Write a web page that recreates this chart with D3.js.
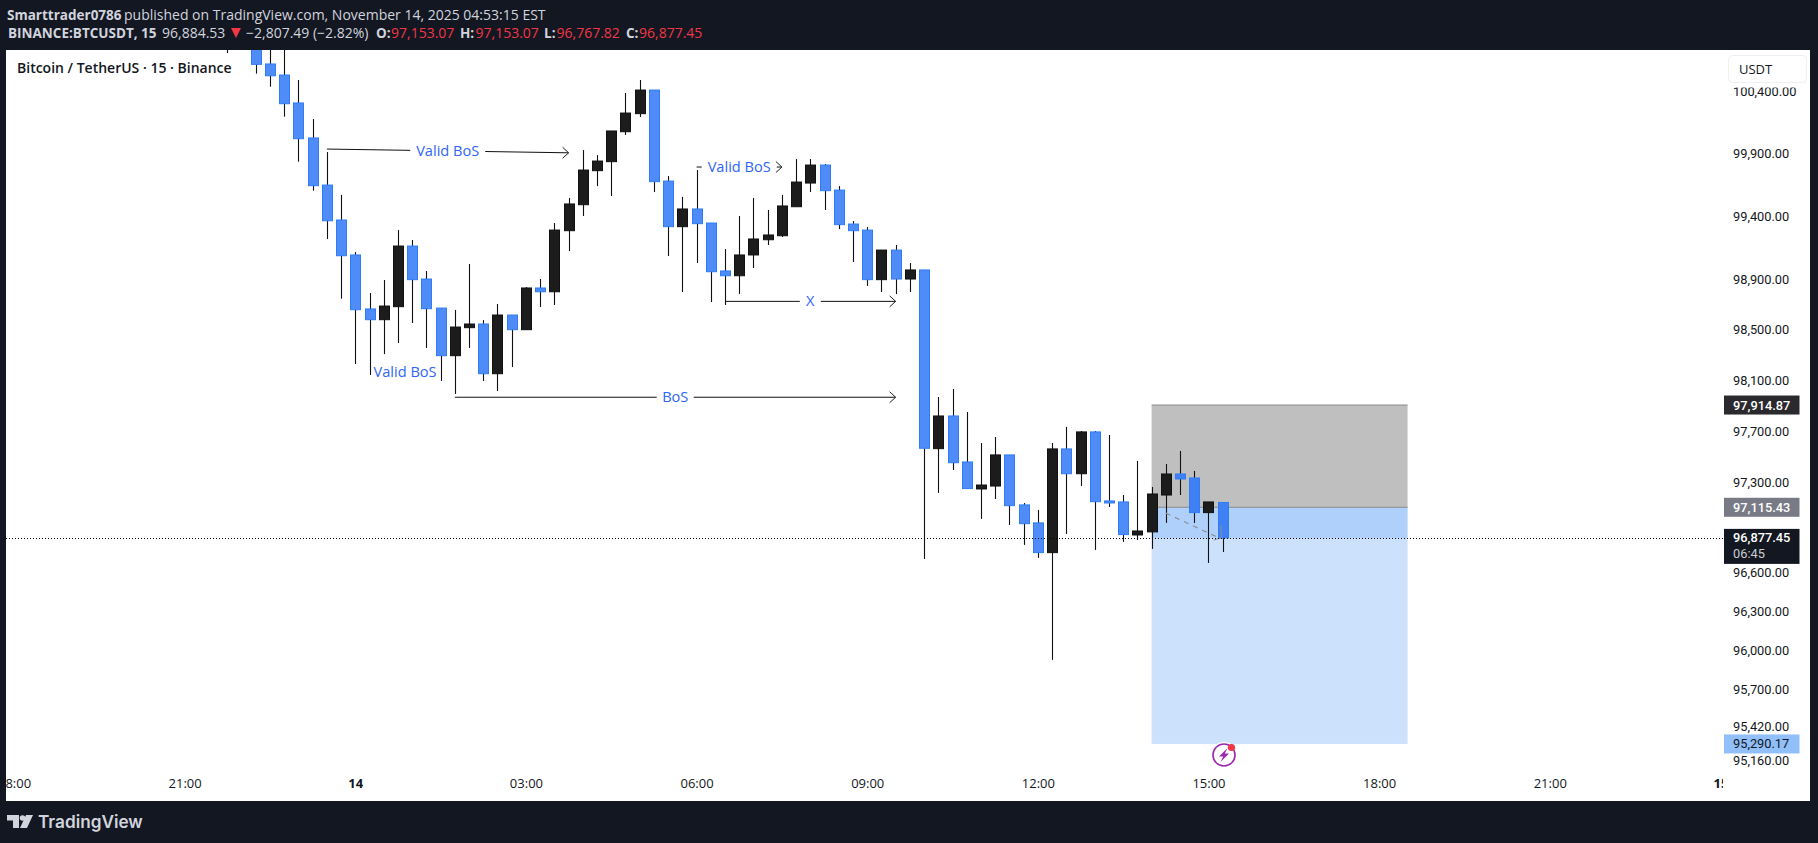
<!DOCTYPE html>
<html>
<head>
<meta charset="utf-8">
<script src="https://cdn.jsdelivr.net/npm/d3@7"></script>
<style>
  html, body { margin: 0; padding: 0; background: #131722; overflow: hidden; }
  svg { display: block; }
  text { font-family: "Open Sans", sans-serif; }
</style>
</head>
<body>
<svg id="chart" width="1818" height="843"></svg>
<script>
// quarter hours since Nov 14 00:00
var slots = [-9, -7, -6, -5, -4, -3, -2, -1, 0, 1, 2, 3, 4, 5, 6, 7, 8, 9, 10, 11, 12, 13, 14, 15, 16, 17, 18, 19, 20, 21, 22, 23, 24, 25, 26, 27, 28, 29, 30, 31, 32, 33, 34, 35, 36, 37, 38, 39, 40, 41, 42, 43, 44, 45, 46, 47, 48, 49, 50, 51, 52, 53, 54, 55, 56, 57, 58, 59, 60, 61];
var opens = [100900, 100862, 100629, 100540, 100315, 100034, 99657, 99378, 99100, 98672, 98587, 98690, 99171, 98909, 98679, 98303, 98524, 98553, 98161, 98624, 98508, 98838, 98808, 99293, 99500, 99772, 99844, 100084, 100229, 100419, 99689, 99325, 99466, 99354, 98973, 98935, 99100, 99221, 99253, 99484, 99673, 99817, 99617, 99346, 99298, 98904, 99139, 98909, 98981, 97573, 97829, 97469, 97258, 97281, 97524, 97134, 96994, 96763, 97571, 97377, 97704, 97165, 97157, 96900, 96924, 97211, 97375, 97344, 97074, 97153.07];
var highs = [100950, 100950, 100900, 100800, 100500, 100186, 99921, 99578, 99123, 98798, 98901, 99298, 99219, 98973, 98679, 98664, 99028, 98584, 98711, 98624, 98846, 98909, 99354, 99554, 99937, 99897, 100090, 100395, 100500, 100419, 99729, 99562, 99777, 99354, 99147, 99410, 99554, 99458, 99578, 99865, 99865, 99825, 99649, 99370, 99322, 99139, 99179, 99036, 98981, 97978, 98041, 97860, 97617, 97664, 97524, 97149, 97095, 97617, 97743, 97711, 97711, 97680, 97211, 97477, 97274, 97453, 97555, 97399, 97157, 97153.07];
var lows = [100717, 100551, 100446, 100205, 99844, 99612, 99227, 98753, 98237, 98151, 98316, 98403, 98561, 98364, 98104, 98002, 98364, 98104, 98025, 98214, 98508, 98687, 98703, 99131, 99410, 99649, 99570, 100058, 100202, 99601, 99092, 98806, 99036, 98727, 98703, 98790, 98996, 99179, 99243, 99484, 99601, 99458, 99306, 99044, 98854, 98806, 98790, 98806, 96714, 97227, 97406, 97261, 97025, 97180, 96978, 96823, 96722, 95935, 96908, 97281, 96784, 97118, 96846, 96861, 96792, 96994, 97211, 96994, 96683, 96767.82];
var closes = [100800, 100626, 100534, 100309, 100028, 99652, 99372, 99094, 98666, 98587, 98695, 99171, 98904, 98674, 98303, 98529, 98553, 98161, 98624, 98508, 98838, 98808, 99298, 99506, 99777, 99849, 100090, 100234, 100419, 99684, 99325, 99466, 99349, 98967, 98935, 99100, 99227, 99259, 99490, 99681, 99817, 99612, 99341, 99293, 98904, 99139, 98909, 98981, 97576, 97829, 97463, 97261, 97289, 97524, 97128, 96988, 96763, 97571, 97377, 97704, 97159, 97149, 96903, 96931, 97219, 97375, 97336, 97074, 97157, 96877.45];

var priceTicks = [100400, 99900, 99400, 98900, 98500, 98100, 97700, 97300, 96600, 96300, 96000, 95700, 95420, 95160];
var timeTicks = [-24, -12, 0, 12, 24, 36, 48, 60, 72, 84, 96];
var timeLabels = ["18:00", "21:00", "14", "03:00", "06:00", "09:00", "12:00", "15:00", "18:00", "21:00", "15"];

var targetTop = 97914.87, entry = 97115.43, stop = 95290.17, lastPrice = 96877.45;
var boxStart = 56, boxEnd = 74;

var noteLabels = ["Valid BoS", "Valid BoS", "X", "BoS"];
var noteFrom = [-2, 24, 26, 7];
var noteTo = [15, 30, 38, 38];
var notePriceFrom = [99945, 99801, 98732, 97976];
var notePriceTo = [99915, 99801, 98732, 97976];
var noteGap = [37.5, 37.5, 10.5, 18.5];

var svg = d3.select("#chart");
var defs = svg.append("defs");
defs.append("clipPath").attr("id", "plot").append("rect").attr("x", 6).attr("y", 50).attr("width", 1804).attr("height", 751);
defs.append("clipPath").attr("id", "timeclip").append("rect").attr("x", 6).attr("y", 770).attr("width", 1717).attr("height", 31);

var x = d3.scaleLinear().domain([0, 96]).range([355.3, 1720.4]);
var y = d3.scaleLog().domain([100400, 95160]).range([92.4, 761]);

svg.append("rect").attr("x", 6).attr("y", 50).attr("width", 1804).attr("height", 751).attr("fill", "#fff");

var plot = svg.append("g").attr("clip-path", "url(#plot)");

// short position box, under the candles
var boxX = x(boxStart), boxW = x(boxEnd) - x(boxStart);
plot.append("rect").attr("x", boxX).attr("width", boxW)
  .attr("y", y(targetTop)).attr("height", y(entry) - y(targetTop))
  .attr("fill", "#808080").attr("fill-opacity", 0.5);
plot.append("rect").attr("x", boxX).attr("width", boxW)
  .attr("y", y(entry)).attr("height", y(stop) - y(entry))
  .attr("fill", "#2f86f5").attr("fill-opacity", 0.25);
plot.append("rect").attr("x", boxX).attr("width", boxW)
  .attr("y", y(entry)).attr("height", y(lastPrice) - y(entry))
  .attr("fill", "#2f86f5").attr("fill-opacity", 0.18);
plot.selectAll(".boxline").data([targetTop, entry]).enter().append("line")
  .attr("x1", boxX).attr("x2", boxX + boxW)
  .attr("y1", function (d) { return y(d); })
  .attr("y2", function (d) { return y(d); })
  .attr("stroke", "#8a8a8a").attr("stroke-width", 1);

// candles
var candles = slots.map(function (s, i) {
  return { slot: s, o: opens[i], h: highs[i], l: lows[i], c: closes[i] };
});

plot.selectAll(".wick").data(candles).enter().append("line")
  .attr("class", "wick")
  .attr("x1", function (d) { return Math.round(x(d.slot)) + 0.5; })
  .attr("x2", function (d) { return Math.round(x(d.slot)) + 0.5; })
  .attr("y1", function (d) { return y(d.h); })
  .attr("y2", function (d) { return y(d.l); })
  .attr("stroke", "#111")
  .attr("stroke-width", 1.1);

plot.selectAll(".body").data(candles).enter().append("rect")
  .attr("class", "body")
  .attr("x", function (d) { return Math.round(x(d.slot)) - 4.5; })
  .attr("width", 10)
  .attr("y", function (d) { return y(Math.max(d.o, d.c)); })
  .attr("height", function (d) { return Math.max(1, Math.abs(y(d.o) - y(d.c))); })
  .attr("fill", function (d) {
    if (d.c >= d.o) return "#1c1c1c";
    return d.slot > boxStart ? "#3f80f5" : "#4f8cf8"; // the ones inside the box look deeper
  })
  .attr("stroke", function (d) { return d.c < d.o ? "#2f7df6" : "#111"; })
  .attr("stroke-width", 1);

// dashed line inside the box
plot.append("line")
  .attr("x1", x(57)).attr("y1", y(97070))
  .attr("x2", x(61) - 3).attr("y2", y(96875))
  .attr("stroke", "#8b8f99").attr("stroke-width", 1.2).attr("stroke-dasharray", "5 5");
plot.append("path")
  .attr("d", "M" + (x(61) - 2) + "," + (y(96975)) + "L" + (x(61) - 1) + "," + y(96880) + "L" + (x(61) - 9) + "," + y(96860))
  .attr("fill", "none").attr("stroke", "#8b8f99").attr("stroke-width", 1);

// last price line
svg.append("line")
  .attr("x1", 6).attr("x2", 1723)
  .attr("y1", Math.round(y(lastPrice)) + 0.5).attr("y2", Math.round(y(lastPrice)) + 0.5)
  .attr("stroke", "#000").attr("stroke-width", 1).attr("stroke-dasharray", "1 2");

// annotations
noteLabels.forEach(function (label, i) {
  var x1 = x(noteFrom[i]), x2 = x(noteTo[i]);
  var y1 = y(notePriceFrom[i]), y2 = y(notePriceTo[i]);
  var mx = (x1 + x2) / 2, my = (y1 + y2) / 2;
  var t1 = (mx - noteGap[i] - x1) / (x2 - x1), t2 = (mx + noteGap[i] - x1) / (x2 - x1);
  plot.append("line").attr("x1", x1).attr("y1", y1)
    .attr("x2", x1 + (x2 - x1) * t1).attr("y2", y1 + (y2 - y1) * t1)
    .attr("stroke", "#111").attr("stroke-width", 1);
  plot.append("line").attr("x1", x1 + (x2 - x1) * t2).attr("y1", y1 + (y2 - y1) * t2)
    .attr("x2", x2).attr("y2", y2)
    .attr("stroke", "#111").attr("stroke-width", 1);
  plot.append("path")
    .attr("d", "M" + (x2 - 6) + "," + (y2 - 5.5) + "L" + x2 + "," + y2 + "L" + (x2 - 6) + "," + (y2 + 5.5))
    .attr("fill", "none").attr("stroke", "#222").attr("stroke-width", 1);
  plot.append("text").attr("x", mx).attr("y", my).attr("dy", "0.35em")
    .attr("text-anchor", "middle").attr("font-size", 14.6).attr("fill", "#2f66f5")
    .text(label);
});
plot.append("text").attr("x", x(3.5)).attr("y", y(98174)).attr("dy", "0.35em")
  .attr("text-anchor", "middle").attr("font-size", 14.6).attr("fill", "#2f66f5")
  .text("Valid BoS");

// price axis
var priceAxis = d3.axisRight(y)
  .tickValues(priceTicks)
  .tickSize(0)
  .tickPadding(0)
  .tickFormat(d3.format(",.2f"));
var pa = svg.append("g").attr("transform", "translate(1733,-1)").call(priceAxis);
pa.select(".domain").remove();
pa.selectAll("text").attr("font-size", 12.8).attr("fill", "#131722").style("font-family", "Roboto");

// price labels
var tagPrices = [targetTop, entry, stop];
var tagFill = ["#2a2a2e", "#787b86", "#90bff9"];
var tagText = ["#fff", "#fff", "#131722"];
tagPrices.forEach(function (p, i) {
  svg.append("rect").attr("x", 1724).attr("width", 75.5).attr("y", y(p) - 9.5).attr("height", 19).attr("fill", tagFill[i]);
  svg.append("text").attr("x", 1733).attr("y", y(p)).attr("dy", "0.35em")
    .attr("font-size", 12.8).attr("fill", tagText[i]).style("font-family", "Roboto")
    .attr("font-weight", i === 2 ? 400 : 500)
    .text(d3.format(",.2f")(p));
});
svg.append("rect").attr("x", 1724).attr("width", 75.5).attr("y", y(lastPrice) - 9).attr("height", 35).attr("fill", "#131722");
svg.append("text").attr("x", 1733).attr("y", y(lastPrice)).attr("dy", "0.35em")
  .attr("font-size", 12.8).attr("font-weight", 500).attr("fill", "#fff").style("font-family", "Roboto")
  .text(d3.format(",.2f")(lastPrice));
svg.append("text").attr("x", 1733).attr("y", y(lastPrice) + 16).attr("dy", "0.35em")
  .attr("font-size", 12.8).attr("fill", "#c9cbd1").style("font-family", "Roboto").text("06:45");

// USDT button, its margin hides the top of the first tick
svg.append("rect").attr("x", 1728).attr("y", 55).attr("width", 79).attr("height", 32.5).attr("fill", "#fff");
svg.append("rect").attr("x", 1728.5).attr("y", 55.5).attr("width", 78).attr("height", 27).attr("rx", 4)
  .attr("fill", "#fff").attr("stroke", "#eeeff2");
svg.append("text").attr("x", 1739).attr("y", 69).attr("dy", "0.35em")
  .attr("font-size", 13).attr("fill", "#131722").text("USDT");

// time axis
var timeAxis = d3.axisBottom(x)
  .tickValues(timeTicks)
  .tickSize(0)
  .tickPadding(0)
  .tickFormat(function (d, i) { return timeLabels[i]; });
var ta = svg.append("g").attr("clip-path", "url(#timeclip)")
  .append("g").attr("transform", "translate(0,779)").call(timeAxis);
ta.select(".domain").remove();
ta.selectAll("text").attr("font-size", 13).attr("fill", "#131722").style("font-family", "Open Sans")
  .attr("font-weight", function (d, i) { return timeLabels[i].length < 3 ? 700 : 400; });

// title
svg.append("text").attr("x", 17).attr("y", 68).attr("dy", "0.35em")
  .attr("font-size", 14).attr("font-weight", 600).attr("fill", "#131722")
  .text("Bitcoin / TetherUS · 15 · Binance");

// header
var headText = "#d1d4dc", headRed = "#f23645";
var headerBits = [
  ["Smarttrader0786", 7, 15, headText, 700],
  ["published on TradingView.com, November 14, 2025 04:53:15 EST", 124, 15, headText, 400],
  ["BINANCE:BTCUSDT, 15", 8, 33, headText, 700],
  ["96,884.53", 162, 33, headText, 400],
  ["−2,807.49 (−2.82%)", 246, 33, headText, 400],
  ["O:", 376, 33, headText, 700],
  ["97,153.07", 391, 33, headRed, 400],
  ["H:", 460, 33, headText, 700],
  ["97,153.07", 475.5, 33, headRed, 400],
  ["L:", 544, 33, headText, 700],
  ["96,767.82", 556.5, 33, headRed, 400],
  ["C:", 626, 33, headText, 700],
  ["96,877.45", 639, 33, headRed, 400]
];
svg.selectAll(".head").data(headerBits).enter().append("text")
  .attr("class", "head")
  .attr("x", function (d) { return d[1]; })
  .attr("y", function (d) { return d[2]; })
  .attr("dy", "0.35em")
  .attr("font-size", function (d) { return d[4] === 700 ? 13.5 : 14; })
  .attr("fill", function (d) { return d[3]; })
  .attr("font-weight", function (d) { return d[4]; })
  .text(function (d) { return d[0]; });
svg.append("path").attr("d", "M231,28L241,28L236,38Z").attr("fill", headRed);

// lightning badge
var badge = svg.append("g").attr("transform", "translate(1224,755)");
badge.append("circle").attr("r", 13).attr("fill", "#fff");
badge.append("circle").attr("r", 11).attr("fill", "none").attr("stroke", "#9c27b0").attr("stroke-width", 1.6);
badge.append("path").attr("d", "M3.5,-7L-5,1.5L-0.8,1.5L-3.5,7L5,-1.5L0.8,-1.5Z").attr("fill", "#9c27b0");
badge.append("circle").attr("cx", 7.5).attr("cy", -7.5).attr("r", 3.6).attr("fill", "#f23645");

// footer logo
var logo = svg.append("g").attr("fill", "#d1d4dc");
logo.append("path").attr("d", "M7,815H19V828H13V820.5H7Z");
logo.append("circle").attr("cx", 22.5).attr("cy", 818).attr("r", 2.8);
logo.append("path").attr("d", "M26,815H33L27,828H20Z");
logo.append("text").attr("x", 38).attr("y", 822).attr("dy", "0.35em")
  .attr("font-size", 17.2).attr("font-weight", 600).attr("fill", "#d1d4dc")
  .style("font-family", "Inter").text("TradingView");
</script>
</body>
</html>
